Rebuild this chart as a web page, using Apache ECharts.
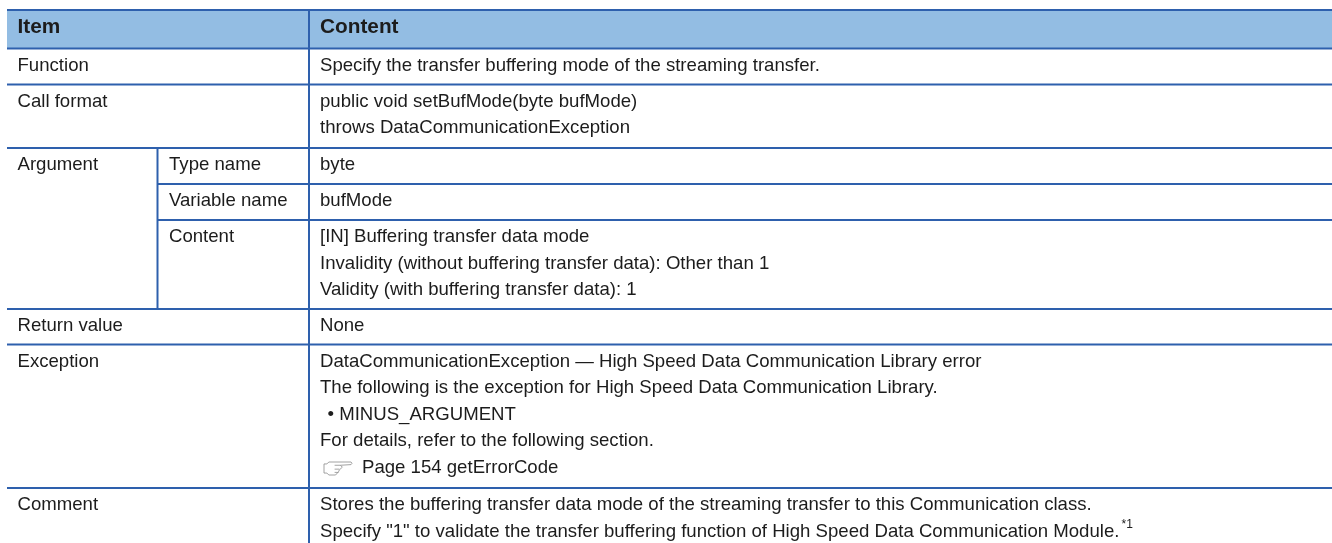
<!DOCTYPE html>
<html>
<head>
<meta charset="utf-8">
<style>
  html, body { margin: 0; padding: 0; background: #fff; }
  #main { width: 1332px; height: 543px; }
</style>
<script src="https://cdn.jsdelivr.net/npm/echarts@6/dist/echarts.min.js"></script>
</head>
<body>
<div id="main"></div>
<script>
// table text, row by row
const headerLabels = ['Item', 'Content'];
const itemLabels = ['Function', 'Call format', 'Argument', '', '', 'Return value', 'Exception', 'Comment'];
const subLabels = ['', '', 'Type name', 'Variable name', 'Content', '', '', ''];
const contentLines = [
    ['Specify the transfer buffering mode of the streaming transfer.'],
    ['public void setBufMode(byte bufMode)', 'throws DataCommunicationException'],
    ['byte'],
    ['bufMode'],
    ['[IN] Buffering transfer data mode',
     'Invalidity (without buffering transfer data): Other than 1',
     'Validity (with buffering transfer data): 1'],
    ['None'],
    ['DataCommunicationException \u2014 High Speed Data Communication Library error',
     'The following is the exception for High Speed Data Communication Library.',
     '\u2022 MINUS_ARGUMENT',
     'For details, refer to the following section.',
     'Page 154 getErrorCode'],
    ['Stores the buffering transfer data mode of the streaming transfer to this Communication class.',
     'Specify "1" to validate the transfer buffering function of High Speed Data Communication Module.']
];
const footnoteMark = '*1';

// layout, in picture pixels
const rowEdges = [10, 48.5, 84.5, 148, 184, 220, 309, 344.5, 488, 543];
const tableLeft = 7, tableRight = 1332;
const colSub = 157.5, colContent = 309;
const textX = [17.5, 169, 320];
const lineStep = 26.6, firstLine = 17;
const ruleColor = '#2e60ad', headFill = '#93bde3', inkColor = '#1c1c1c';
const fontFace = '"Liberation Sans", Arial, sans-serif';
const fontSize = 18.6, headFontSize = 20.8;

// rules: [x1, y1, x2, y2, width]
const rules = [];
rowEdges.slice(0, -1).forEach((y, i) => {
    // row lines inside the Argument block start at the sub column
    const x1 = (i === 4 || i === 5) ? colSub : tableLeft;
    rules.push([x1, y, tableRight, y, 2]);
});
rules.push([colContent, rowEdges[0], colContent, rowEdges[9], 2]);
rules.push([colSub, rowEdges[3], colSub, rowEdges[6], 2]);

// texts: [x, y, string, bold]
const texts = [];
const headMid = (rowEdges[0] + rowEdges[1]) / 2 - 1.5;
texts.push([textX[0], headMid, headerLabels[0], 1]);
texts.push([textX[2], headMid, headerLabels[1], 1]);
contentLines.forEach((lines, r) => {
    const top = rowEdges[r + 1];
    if (itemLabels[r]) texts.push([textX[0], top + firstLine, itemLabels[r], 0]);
    if (subLabels[r]) texts.push([textX[1], top + firstLine, subLabels[r], 0]);
    lines.forEach((line, l) => {
        let x = textX[2];
        if (line.charAt(0) === '\u2022') x = 327.5;
        if (line.indexOf('Page 154') === 0) x = 362;
        texts.push([x, top + firstLine + l * lineStep, line, 0]);
    });
});

const handPath = 'M0 3 L3 3 L5 1.5 L28 1.5 Q30 2.5 28 3.5 L17 4 L19 5.5 L16 7.5 L15 9 L12 11.5 L5 11.5 L3 10 L0 10 Z M11 4 L17 4 M11 7 L16 7 M11 9.5 L15 9.5';

const chart = echarts.init(document.getElementById('main'), null, { renderer: 'canvas' });

chart.setOption({
    animation: false,
    backgroundColor: '#fff',
    grid: { left: 0, right: 0, top: 0, bottom: 0 },
    xAxis: { type: 'value', min: 0, max: 1332, show: false },
    yAxis: { type: 'value', min: 0, max: 543, inverse: true, show: false },
    series: [
        {
            // header band
            type: 'custom',
            coordinateSystem: 'cartesian2d',
            silent: true,
            z: 1,
            data: [[tableLeft, rowEdges[0], tableRight, rowEdges[1]]],
            renderItem(params, api) {
                const a = api.coord([api.value(0), api.value(1)]);
                const b = api.coord([api.value(2), api.value(3)]);
                return {
                    type: 'rect',
                    shape: { x: a[0], y: a[1], width: b[0] - a[0], height: b[1] - a[1] },
                    style: { fill: headFill }
                };
            }
        },
        {
            type: 'custom',
            coordinateSystem: 'cartesian2d',
            silent: true,
            z: 2,
            data: rules,
            renderItem(params, api) {
                const a = api.coord([api.value(0), api.value(1)]);
                const b = api.coord([api.value(2), api.value(3)]);
                return {
                    type: 'line',
                    shape: { x1: a[0], y1: a[1], x2: b[0], y2: b[1] },
                    style: { stroke: ruleColor, lineWidth: api.value(4) }
                };
            }
        },
        {
            type: 'custom',
            coordinateSystem: 'cartesian2d',
            silent: true,
            z: 3,
            data: texts.map((t, i) => [t[0], t[1], i]),
            renderItem(params, api) {
                const t = texts[api.value(2)];
                const p = api.coord([t[0], t[1]]);
                return {
                    type: 'text',
                    x: p[0],
                    y: p[1],
                    style: {
                        text: t[2],
                        fill: inkColor,
                        font: t[3] ? 'bold ' + headFontSize + 'px ' + fontFace : fontSize + 'px ' + fontFace,
                        align: 'left',
                        verticalAlign: 'middle'
                    }
                };
            }
        },
        {
            // reference hand and footnote mark
            type: 'custom',
            coordinateSystem: 'cartesian2d',
            silent: true,
            z: 3,
            data: [[324, 462, 1121.5, 525]],
            renderItem(params, api) {
                const h = api.coord([api.value(0), api.value(1)]);
                const f = api.coord([api.value(2), api.value(3)]);
                return {
                    type: 'group',
                    children: [
                        {
                            type: 'path',
                            shape: { pathData: handPath, x: h[0], y: h[1], width: 28, height: 13, layout: 'cover' },
                            style: { fill: 'none', stroke: '#8c8c8c', lineWidth: 0.8 }
                        },
                        {
                            type: 'text',
                            x: f[0],
                            y: f[1],
                            style: {
                                text: footnoteMark,
                                fill: inkColor,
                                font: '12px ' + fontFace,
                                align: 'left',
                                verticalAlign: 'middle'
                            }
                        }
                    ]
                };
            }
        }
    ]
});

window.addEventListener('resize', () => chart.resize());
</script>
</body>
</html>
